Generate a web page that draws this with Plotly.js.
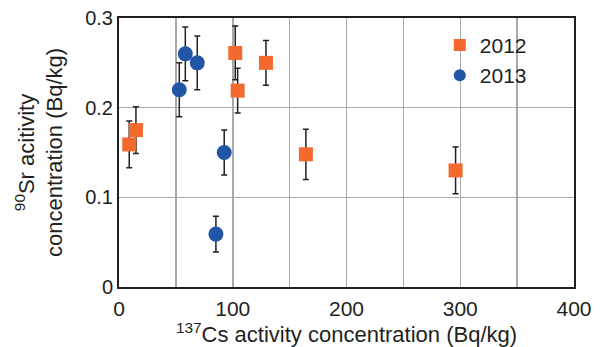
<!DOCTYPE html>
<html>
<head>
<meta charset="utf-8">
<script src="https://cdn.plot.ly/plotly-3.0.1.min.js"></script>
<style>html,body{margin:0;padding:0;background:#fff;}#chart{width:603px;height:347px;}</style>
</head>
<body>
<div id="chart"></div>
<script>
const cs2012 = [9.0, 14.9, 102.2, 104.3, 129.2, 164.3, 295.9];
const sr2012 = [0.159, 0.175, 0.261, 0.219, 0.250, 0.148, 0.130];
const err2012 = [0.026, 0.026, 0.030, 0.025, 0.025, 0.028, 0.026];

const cs2013 = [53.0, 58.3, 68.8, 92.5, 85.2];
const sr2013 = [0.220, 0.260, 0.250, 0.150, 0.059];
const err2013 = [0.030, 0.030, 0.030, 0.025, 0.020];

const xTicks = [0, 100, 200, 300, 400];
const yTicks = [0, 0.1, 0.2, 0.3];
const yTickText = ['0', '0.1', '0.2', '0.3'];

const font = {family: 'Liberation Sans, Arial, Helvetica, sans-serif', color: '#231f20'};
const gridColor = '#a7a9ac';

const traces = [
  {
    name: '2012', x: cs2012, y: sr2012, type: 'scatter', mode: 'markers',
    marker: {symbol: 'square', size: 14, color: '#f4692d'},
    error_y: {type: 'data', array: err2012, visible: true, color: '#231f20', thickness: 1.5, width: 3}
  },
  {
    name: '2013', x: cs2013, y: sr2013, type: 'scatter', mode: 'markers',
    marker: {symbol: 'circle', size: 15, color: '#2155a5'},
    error_y: {type: 'data', array: err2013, visible: true, color: '#231f20', thickness: 1.5, width: 3}
  }
];

const layout = {
  width: 603, height: 347,
  margin: {l: 119, r: 29, t: 18, b: 60},
  paper_bgcolor: '#fff', plot_bgcolor: '#fff',
  font: Object.assign({size: 20}, font),
  showlegend: true,
  legend: {x: 0.705, y: 0.975, xanchor: 'left', yanchor: 'top', bgcolor: 'rgba(0,0,0,0)',
           font: Object.assign({size: 21}, font), tracegroupgap: 0, itemsizing: 'constant'},
  xaxis: {
    range: [0, 400], tickmode: 'array', tickvals: xTicks, ticktext: xTicks.map(String),
    minor: {tickmode: 'array', tickvals: [50, 150, 250, 350], showgrid: true, gridcolor: gridColor, gridwidth: 1.5, ticks: ''},
    showgrid: true, gridcolor: gridColor, gridwidth: 1.5,
    showline: true, linecolor: '#231f20', linewidth: 2, mirror: true,
    ticks: '', zeroline: false, ticklabelstandoff: 2,
    tickfont: Object.assign({size: 21}, font),
    title: {text: '<sup>137</sup>Cs activity concentration (Bq/kg)', font: Object.assign({size: 22}, font), standoff: 4}
  },
  yaxis: {
    range: [0, 0.3], tickmode: 'array', tickvals: yTicks, ticktext: yTickText,
    showgrid: true, gridcolor: gridColor, gridwidth: 1.5,
    showline: true, linecolor: '#231f20', linewidth: 2, mirror: true,
    ticks: '', zeroline: false,
    tickfont: Object.assign({size: 20}, font),
    title: {text: '<sup>90</sup>Sr acitivity<br>concentration (Bq/kg)', font: Object.assign({size: 22}, font), standoff: 16}
  }
};

Plotly.newPlot('chart', traces, layout, {staticPlot: true, displayModeBar: false});
</script>
</body>
</html>
